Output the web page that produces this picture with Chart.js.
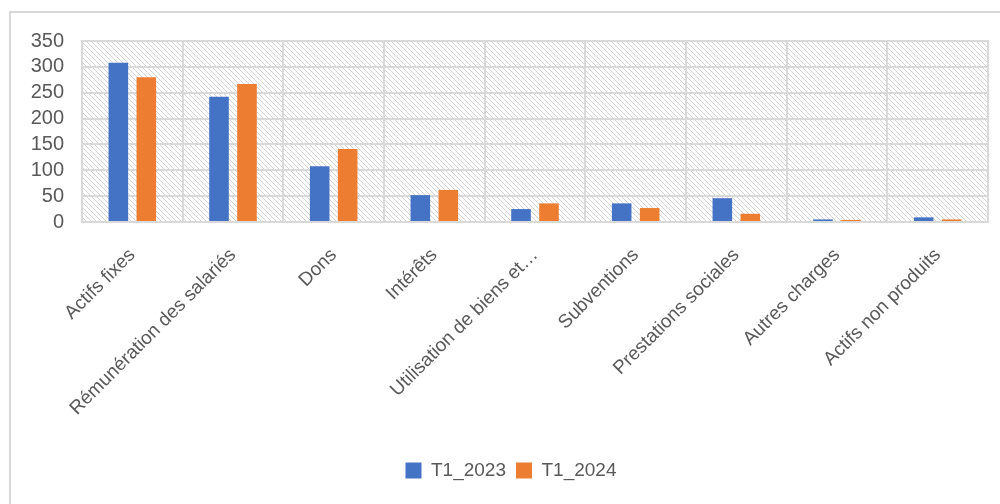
<!DOCTYPE html>
<html>
<head>
<meta charset="utf-8">
<script src="https://cdn.jsdelivr.net/npm/chart.js@4"></script>
<style>
    body { margin: 0; background: #ffffff; }
    #wrap { width: 1000px; height: 504px; position: relative; }
</style>
</head>
<body>
<div id="wrap"><canvas id="chart"></canvas></div>
<script>
const categories = ['Actifs fixes', 'Rémunération des salariés', 'Dons', 'Intérêts', 'Utilisation de biens et…',
    'Subventions', 'Prestations sociales', 'Autres charges', 'Actifs non produits'];
const seriesNames = ['T1_2023', 'T1_2024'];
const values2023 = [308, 242, 108, 52, 25, 36, 46, 5, 9];
const values2024 = [280, 267, 141, 62, 36, 27, 16, 4, 5];
const yTicks = { min: 0, max: 350, step: 50 };

const gridColor = '#d9d9d9';
const textColor = '#595959';

// Schraffur fuer den Diagrammhintergrund
function makeHatch(ctx)
{
    const tile = document.createElement('canvas');
    tile.width = 5;
    tile.height = 5;
    const t = tile.getContext('2d');
    t.fillStyle = '#ffffff';
    t.fillRect(0, 0, 5, 5);
    t.fillStyle = '#d4d4d4';
    for (let i = 0; i < 5; i++)
    {
        t.fillRect(i, i, 1, 1);
    }
    return ctx.createPattern(tile, 'repeat');
}

const backgroundPlugin = {
    id: 'background',
    afterLayout(chart)
    {
        // Legende etwas nach rechts schieben
        chart.legend.left += 12;
        chart.legend.right += 12;
    },
    beforeDraw(chart)
    {
        const ctx = chart.ctx;
        const a = chart.chartArea;
        ctx.save();
        // Rahmen um das ganze Diagramm
        ctx.strokeStyle = gridColor;
        ctx.lineWidth = 2;
        ctx.strokeRect(10, 12, 1000, 600);
        ctx.fillStyle = makeHatch(ctx);
        ctx.fillRect(a.left, a.top, a.right - a.left, a.bottom - a.top);
        ctx.restore();
    },
    afterDatasetsDraw(chart)
    {
        const ctx = chart.ctx;
        const a = chart.chartArea;
        ctx.save();
        ctx.strokeStyle = gridColor;
        ctx.lineWidth = 2;
        ctx.strokeRect(a.left, a.top, a.right - a.left, a.bottom - a.top);
        ctx.restore();
    }
};

const ctx = document.getElementById('chart').getContext('2d');

new Chart(ctx, {
    type: 'bar',
    data: {
        labels: categories,
        datasets: [
            { label: seriesNames[0], data: values2023, backgroundColor: '#4472c4' },
            { label: seriesNames[1], data: values2024, backgroundColor: '#ed7d31' },
        ],
    },
    options: {
        responsive: true,
        maintainAspectRatio: false,
        animation: false,
        categoryPercentage: 0.556,
        barPercentage: 0.7,
        layout: {
            padding: { top: 41, left: 10, right: 12, bottom: 14 },
        },
        scales: {
            x: {
                grid: { color: gridColor, lineWidth: 2, drawTicks: false, offset: true },
                border: { display: false },
                ticks: {
                    color: textColor,
                    font: { family: 'Liberation Sans, Arial', size: 19 },
                    minRotation: 45,
                    maxRotation: 45,
                    padding: 22,
                    autoSkip: false,
                },
                afterFit: s => { s.height = 229; },
            },
            y: {
                min: yTicks.min,
                max: yTicks.max,
                grid: { color: gridColor, lineWidth: 2, drawTicks: false },
                border: { display: false },
                ticks: {
                    stepSize: yTicks.step,
                    autoSkip: false,
                    color: textColor,
                    font: { family: 'Liberation Sans, Arial', size: 20 },
                    padding: 18,
                },
                afterFit: s => { s.width = 72; },
            },
        },
        plugins: {
            legend: {
                position: 'bottom',
                labels: {
                    color: textColor,
                    font: { family: 'Liberation Sans, Arial', size: 19 },
                    boxWidth: 16,
                    boxHeight: 16,
                    padding: 10,
                },
            },
            tooltip: { enabled: false },
        },
    },
    plugins: [backgroundPlugin],
});
</script>
</body>
</html>
